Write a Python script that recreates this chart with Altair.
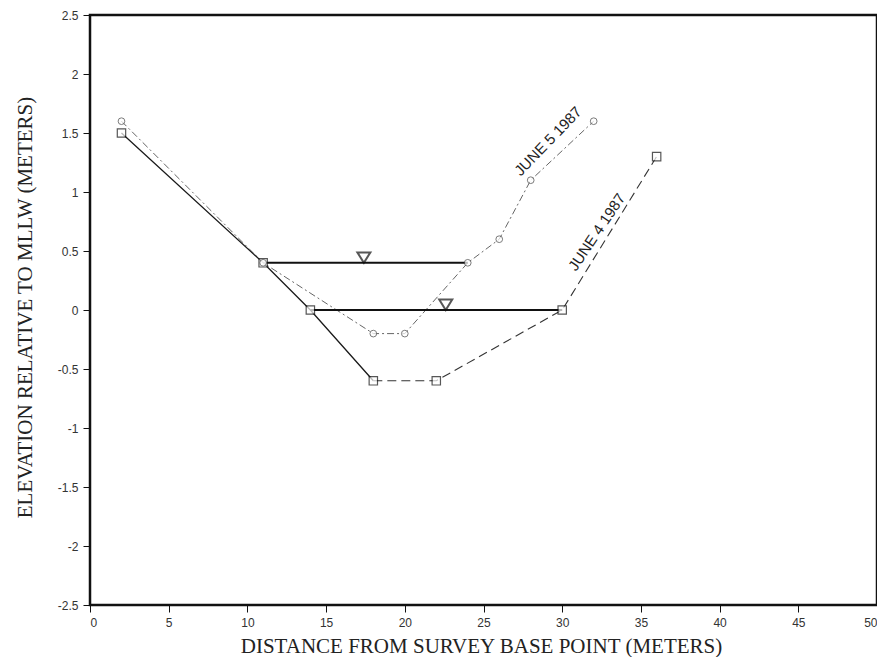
import altair as alt
import pandas as pd

# June 4 1987 survey (squares)
x_jun4 = [2, 11, 14, 18, 22, 30, 36]
y_jun4 = [1.5, 0.4, 0.0, -0.6, -0.6, 0.0, 1.3]
# June 5 1987 survey (circles)
x_jun5 = [2, 11, 18, 20, 24, 26, 28, 32]
y_jun5 = [1.6, 0.4, -0.2, -0.2, 0.4, 0.6, 1.1, 1.6]

# water levels
wl_names = ["June 5", "June 4"]
wl_y = [0.4, 0.0]
wl_x_start = [11, 14]
wl_x_end = [24, 30]
wl_marker_x = [17.4, 22.6]

# series labels
lab_text = ["JUNE 5 1987", "JUNE 4 1987"]
lab_x = [29.1, 32.2]
lab_y = [1.43, 0.66]
lab_angle = [314, 304]

d4 = pd.DataFrame({"x": x_jun4, "y": y_jun4})
d5 = pd.DataFrame({"x": x_jun5, "y": y_jun5})
wl = pd.DataFrame({"name": wl_names, "y": wl_y, "x1": wl_x_start, "x2": wl_x_end, "xm": wl_marker_x})
labs = pd.DataFrame({"t": lab_text, "x": lab_x, "y": lab_y, "a": lab_angle})

xs = alt.Scale(domain=[0, 50], nice=False, zero=False)
ys = alt.Scale(domain=[-2.5, 2.5], nice=False, zero=False)

xaxis = alt.Axis(
    values=list(range(0, 51, 5)), title="DISTANCE FROM SURVEY BASE POINT (METERS)",
    titleX=391, titleY=47, titleBaseline="alphabetic", titleAnchor="start", titleAlign="center",
)
yaxis = alt.Axis(
    values=[-2.5, -2, -1.5, -1, -0.5, 0, 0.5, 1, 1.5, 2, 2.5],
    labelExpr="toString(datum.value)",
    title="ELEVATION RELATIVE TO MLLW (METERS)",
    titleX=-59, titleY=292, titleBaseline="alphabetic", titleAngle=270, titleAlign="center",
)

X = alt.X("x:Q", scale=xs, axis=xaxis)
Y = alt.Y("y:Q", scale=ys, axis=yaxis)

jun4_solid = alt.Chart(d4).transform_filter("datum.x <= 18").mark_line(
    color="#1a1a1a", strokeWidth=1.3).encode(x=X, y=Y)
jun4_dash = alt.Chart(d4).transform_filter("datum.x >= 18").mark_line(
    color="#333333", strokeWidth=1.1, strokeDash=[9, 5]).encode(x=X, y=Y)
jun5_line = alt.Chart(d5).mark_line(
    color="#666666", strokeWidth=1, strokeDash=[7, 3, 2, 3]).encode(x=X, y=Y)

jun4_pts = alt.Chart(d4).mark_point(shape="square", size=70, filled=True, fill="white",
                                    stroke="#111111", strokeWidth=1.2).encode(x=X, y=Y)
jun5_pts = alt.Chart(d5).mark_point(shape="circle", size=45, filled=True, fill="white",
                                    stroke="#444444", strokeWidth=1).encode(x=X, y=Y)

wl_lines = alt.Chart(wl).mark_rule(color="#111111", strokeWidth=2).encode(
    x=alt.X("x1:Q", scale=xs, axis=xaxis), x2="x2:Q", y=alt.Y("y:Q", scale=ys, axis=yaxis))
wl_tri = alt.Chart(wl).mark_point(
    shape="M-1,-1.6L1,-1.6L0,0Z", size=169, filled=True, fill="white",
    stroke="#111111", strokeWidth=2).encode(
    x=alt.X("xm:Q", scale=xs, axis=xaxis), y=alt.Y("y:Q", scale=ys, axis=yaxis))

labels = alt.Chart(labs).mark_text(
    font="Liberation Sans", fontSize=15, color="#222222", align="center", baseline="middle").encode(
    x=X, y=Y, text="t:N", angle=alt.Angle("a:Q", scale=None))

chart = alt.layer(
    jun5_line, jun4_solid, jun4_dash, wl_lines, jun4_pts, jun5_pts, wl_tri, labels
).properties(
    width=787, height=590,
    padding={"left": 82, "top": 7, "right": 0, "bottom": 52},
    autosize=alt.AutoSizeParams(type="none"),
    background="white",
).configure_view(
    stroke="#111111", strokeWidth=2.5
).configure_axis(
    grid=False, domain=False, tickColor="#111111", tickWidth=1, tickSize=7,
    labelFont="Liberation Sans", labelFontSize=12, labelColor="#333333", labelPadding=5,
    titleFont="Liberation Serif", titleFontSize=21, titleFontWeight="normal", titleColor="#222222",
)

chart.save("out.html", embed_options={"renderer": "svg", "actions": False})
